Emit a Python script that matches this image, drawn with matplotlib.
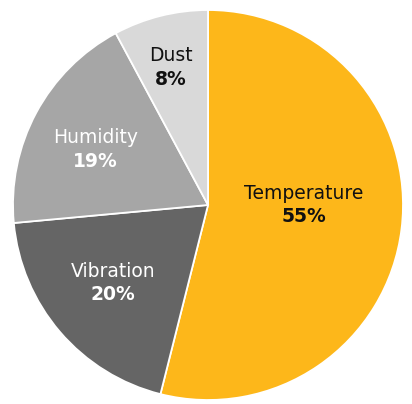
import matplotlib
matplotlib.use("Agg")
import matplotlib.pyplot as plt
import numpy as np

categories = ["Temperature", "Vibration", "Humidity", "Dust"]
values = [55, 20, 19, 8]
pct_labels = ["55%", "20%", "19%", "8%"]

colors = ["#FDB71A", "#656565", "#A6A6A6", "#D9D9D9"]
text_colors = ["#111111", "white", "white", "#111111"]
label_r = [0.49, 0.63, 0.645, 0.73]
label_dang = [7, -1, 2, 1]

fig = plt.figure(figsize=(4.12, 4.04), dpi=100)
ax = fig.add_axes([0, 0, 1, 1])
wedges, _ = ax.pie(values, colors=colors, startangle=90, counterclock=False,
                   radius=1.0, center=(0, 0),
                   wedgeprops=dict(edgecolor="white", linewidth=1.3))
ax.set_xlim(-208 / 195, 204 / 195)
ax.set_ylim(-199 / 195, 205 / 195)
ax.set_aspect("equal")
ax.axis("off")

for w, cat, pct, tc, r, da in zip(wedges, categories, pct_labels, text_colors,
                                  label_r, label_dang):
    ang = np.deg2rad((w.theta1 + w.theta2) / 2 + da)
    x, y = r * np.cos(ang), r * np.sin(ang)
    ax.text(x, y + 0.06, cat, ha="center", va="center", color=tc,
            fontsize=13.5, family="DejaVu Sans")
    ax.text(x, y - 0.06, pct, ha="center", va="center", color=tc,
            fontsize=13.5, fontweight="bold", family="DejaVu Sans")

fig.savefig("out.png", dpi=100)
